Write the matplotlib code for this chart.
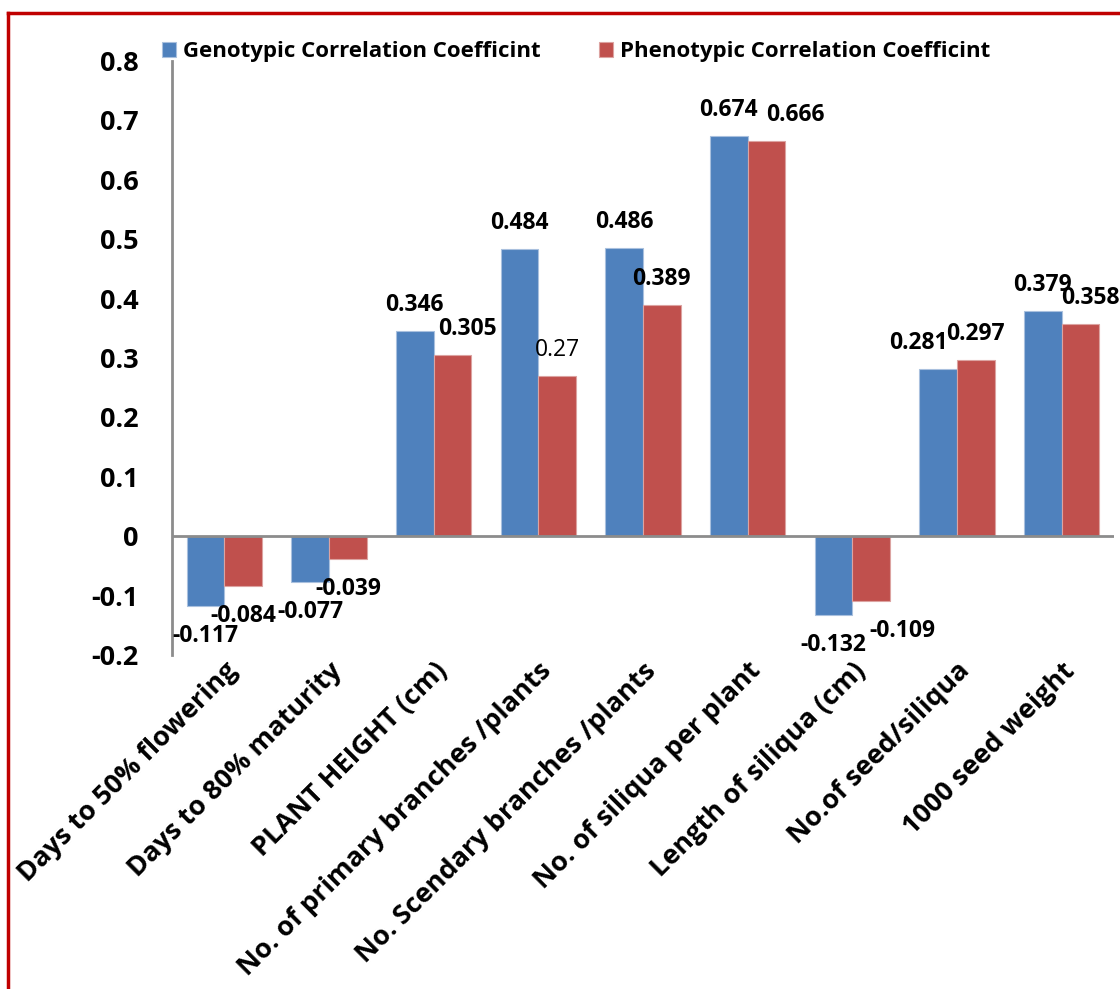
import matplotlib.pyplot as plt
import numpy as np
from matplotlib.lines import Line2D

plt.rcParams['font.family'] = ['Open Sans', 'DejaVu Sans']

traits = ['Days to 50% flowering', 'Days to 80% maturity', 'PLANT HEIGHT (cm)',
          'No. of primary branches /plants', 'No. Scendary branches /plants',
          'No. of siliqua per plant', 'Length of siliqua (cm)', 'No.of seed/siliqua',
          '1000 seed weight']
genotypic = [-0.117, -0.077, 0.346, 0.484, 0.486, 0.674, -0.132, 0.281, 0.379]
phenotypic = [-0.084, -0.039, 0.305, 0.27, 0.389, 0.666, -0.109, 0.297, 0.358]

blue = '#4F81BD'
red = '#C0504D'

fig = plt.figure(figsize=(11.2, 9.89), dpi=100)
ax = fig.add_axes([172 / 1120, 1 - 655 / 989, 942 / 1120, 594 / 989])

x = np.arange(len(traits))
w = 0.36
gb = ax.bar(x - w / 2, genotypic, w, color=blue, edgecolor='#a9c0de', linewidth=0.8,
            label='Genotypic Correlation Coefficint')
pb = ax.bar(x + w / 2, phenotypic, w, color=red, edgecolor='#dca3a1', linewidth=0.8,
            label='Phenotypic Correlation Coefficint')

ax.set_xlim(-0.5, len(traits) - 0.5)
ax.set_ylim(-0.2, 0.8)
ax.set_yticks(np.arange(-0.2, 0.81, 0.1))
ax.set_yticklabels(['-0.2', '-0.1', '0', '0.1', '0.2', '0.3', '0.4', '0.5', '0.6', '0.7', '0.8'],
                   fontsize=19.5, fontweight='bold')
ax.tick_params(axis='y', length=0, pad=24)
ax.tick_params(axis='x', length=0, pad=2)
ax.set_xticks(x)
ax.set_xticklabels(traits, rotation=45, ha='right', rotation_mode='anchor',
                   fontsize=19.5, fontweight='bold')

for s in ['top', 'right', 'bottom']:
    ax.spines[s].set_visible(False)
ax.spines['left'].set_color('#8c8c8c')
ax.spines['left'].set_linewidth(2)
ax.axhline(0, color='#8c8c8c', linewidth=2, zorder=3)

# value labels, a few nudged sideways the way they sit in the sheet
nudge_g = [0, 0, 0, 0, 0, 0, 0, -20, 0]
nudge_p = [0, 0, 15, 0, 0, 29, 31, 0, 10]
for bars, vals, nudge in [(gb, genotypic, nudge_g), (pb, phenotypic, nudge_p)]:
    for b, v, dx in zip(bars, vals, nudge):
        cx = b.get_x() + b.get_width() / 2
        dy = 26 if v > 0 else -30
        weight = 'normal' if v == 0.27 else 'bold'
        ax.annotate(f'{v:g}', (cx, v), xytext=(dx * 0.72, dy * 0.72),
                    textcoords='offset points', ha='center', va='center',
                    fontsize=16.5, fontweight=weight)

fig.legend(handles=[gb, pb], loc='center left', bbox_to_anchor=(142 / 1120, 1 - 52 / 989),
           ncol=2, frameon=False, prop={'size': 16, 'weight': 'bold'},
           handlelength=0.65, handleheight=0.65, handletextpad=0.3, columnspacing=2.6)

# red frame down the left and along the top
fig.add_artist(Line2D([8 / 1120, 8 / 1120], [0, 1 - 13 / 989], color='#C00000', linewidth=2.5))
fig.add_artist(Line2D([8 / 1120, 1], [1 - 13 / 989, 1 - 13 / 989], color='#C00000', linewidth=2.5))

fig.savefig('out.png', dpi=100)
